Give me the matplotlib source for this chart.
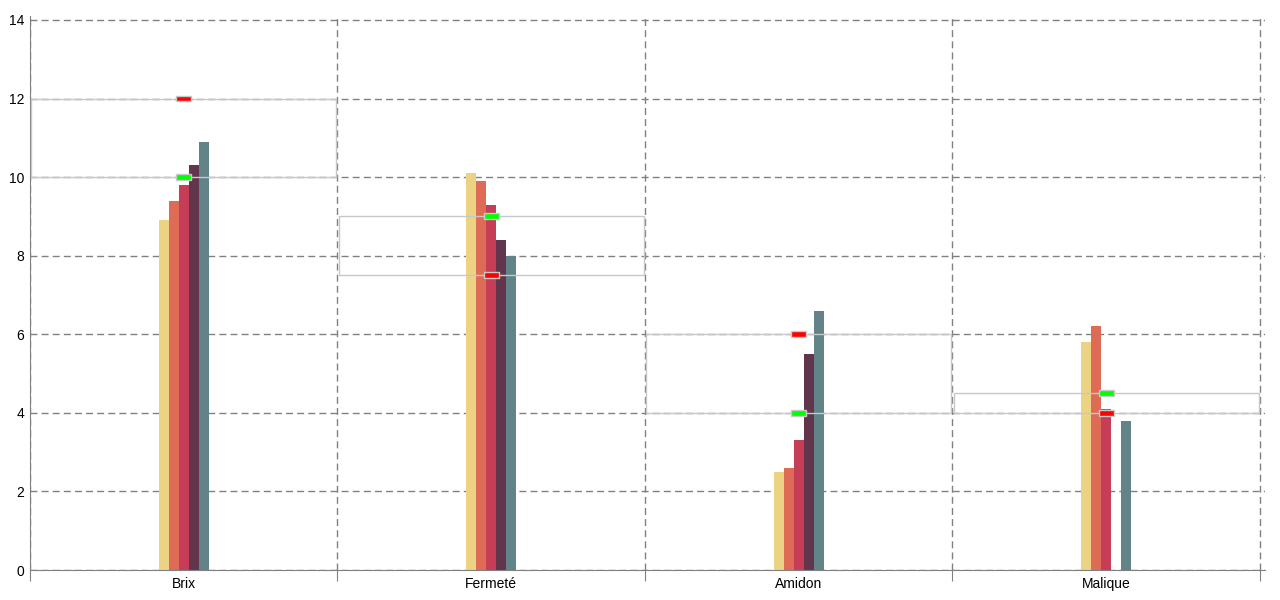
import matplotlib.pyplot as plt
import numpy as np

plt.rcParams['font.family'] = ['Liberation Sans', 'DejaVu Sans']

categories = ['Brix', 'Fermeté', 'Amidon', 'Malique']
# 5 series per category (left -> right)
serie1 = [8.9, 10.1, 2.5, 5.8]
serie2 = [9.4, 9.9, 2.6, 6.2]
serie3 = [9.8, 9.3, 3.3, 4.1]
serie4 = [10.3, 8.4, 5.5, 0.0]
serie5 = [10.9, 8.0, 6.6, 3.8]
# target range (box) and the two limit markers
range_lo = [10.0, 7.5, 4.0, 4.0]
range_hi = [12.0, 9.0, 6.0, 4.5]
mark_red = [12.0, 7.5, 6.0, 4.0]
mark_green = [10.0, 9.0, 4.0, 4.5]

colors = ['#ECD384', '#DE6B56', '#C63D57', '#61364C', '#628387']

fig = plt.figure(figsize=(12.8, 6), dpi=100)
ax = fig.add_axes([30/1280, 1-570/600, 1234.6/1280, 554/600])

x = np.arange(len(categories))
w = 0.0325
series = [serie1, serie2, serie3, serie4, serie5]
for i, s in enumerate(series):
    ax.bar(x + (i - 2) * w, s, width=w, color=colors[i], zorder=2, linewidth=0)

# range boxes
lo = np.array(range_lo); hi = np.array(range_hi)
ax.bar(x, hi - lo, bottom=lo, width=0.992, fill=False, edgecolor='#c8c8c8', lw=1.0, zorder=3)

# limit markers
mh = 0.15
ax.bar(x, mh, bottom=np.array(mark_red) - mh/2, width=0.05, color='#ff0000',
       edgecolor='#c8c8c8', lw=1.0, zorder=4)
ax.bar(x, mh, bottom=np.array(mark_green) - mh/2, width=0.05, color='#00ff00',
       edgecolor='#c8c8c8', lw=1.0, zorder=4)

ax.set_xlim(-0.5, 3.515)
ax.set_ylim(0, 14.1)
ax.set_yticks(np.arange(0, 15, 2))
ax.set_xticks(np.arange(-0.5, 4, 1))
ax.set_xticklabels([])
ax.set_xticks(x, minor=True)
ax.set_xticklabels(categories, minor=True)
ax.tick_params(axis='x', which='major', length=8, color='#808080', direction='out')
ax.tick_params(axis='x', which='minor', length=0, labelsize=10, pad=5)
ax.tick_params(axis='y', length=0, labelsize=10, pad=4)

ax.grid(True, which='major', color='#808080', ls=(0, (5, 3)), lw=1, zorder=1)
for sp in ['top', 'right']:
    ax.spines[sp].set_visible(False)
for sp in ['left', 'bottom']:
    ax.spines[sp].set_color('#808080')
ax.set_axisbelow(True)

plt.savefig('out.png', dpi=100)
